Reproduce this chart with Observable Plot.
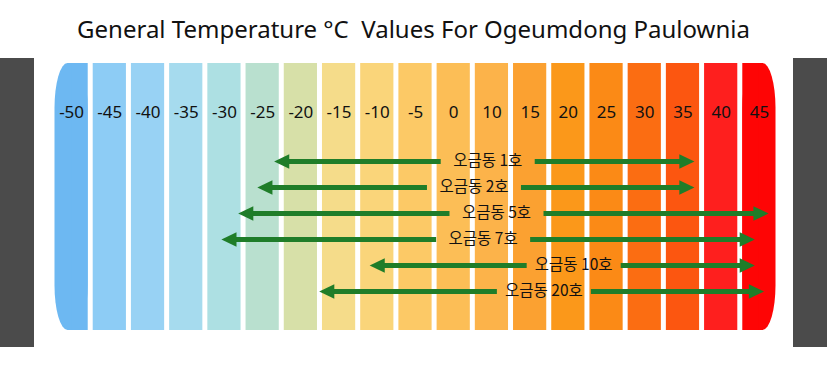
<!DOCTYPE html>
<html><head><meta charset="utf-8">
<script src="https://cdn.jsdelivr.net/npm/d3@7"></script>
<script src="https://cdn.jsdelivr.net/npm/@observablehq/plot@0.6"></script>
<style>
html,body{margin:0;padding:0;background:#fff;width:827px;height:370px;overflow:hidden;position:relative;}
#title{height:55px;line-height:58px;text-align:center;font-family:"Noto Sans",sans-serif;font-size:24px;color:#111;white-space:pre;}
#chart{height:315px;}
.side{position:absolute;top:58px;height:289px;width:34px;background:#4b4b4b;}
</style></head><body>
<div id="title">General Temperature °C  Values For Ogeumdong Paulownia</div>
<div id="chart"></div>
<div class="side" style="left:0"></div><div class="side" style="left:793px"></div>
<script>
// Temperature columns (°C)
const temps = [-50, -45, -40, -35, -30, -25, -20, -15, -10, -5, 0, 10, 15, 20, 25, 30, 35, 40, 45];
const tickLabels = temps.map(String);
const columnColors = ["#6db8f2", "#8dccf5", "#98d2f4", "#a6dbee", "#ade0e3", "#b9e0cf", "#d7e0a8", "#f5dc8a", "#fad57a", "#fcc966", "#fcbe56", "#fcb34a", "#fba131", "#fb981a", "#fb8a16", "#fb6d12", "#fc5610", "#fe1f1e", "#fe0505"];

// Varieties and their temperature ranges (°C)
const varieties = ["오금동 1호", "오금동 2호", "오금동 5호", "오금동 7호", "오금동 10호", "오금동 20호"];
const rangeMin = [-23.5, -25.7, -28.2, -30.4, -11, -17.6];
const rangeMax = [36.5, 36.5, 46.2, 44.4, 44.4, 45.6];
const labelAt = [8.9, 5.3, 10.6, 7.7, 20.7, 16.8];

// temperature -> column index (columns are evenly spaced categories)
const toIndex = d3.scaleLinear().domain(temps).range(temps.map((_, i) => i));
const cols = temps.map((t, i) => ({i, label: tickLabels[i]}));
const rows = varieties.map((name, k) => ({name, lo: toIndex(rangeMin[k]), hi: toIndex(rangeMax[k]), at: toIndex(labelAt[k])}));

const green = "#1f7d29";
const headRight = {draw(ctx, size) { const r = Math.sqrt(size / Math.PI), L = 2.4 * r, H = 2.3 * r; ctx.moveTo(0, 0); ctx.lineTo(-L, -H / 2); ctx.lineTo(-L, H / 2); ctx.closePath(); }};
const headLeft = {draw(ctx, size) { const r = Math.sqrt(size / Math.PI), L = 2.4 * r, H = 2.3 * r; ctx.moveTo(0, 0); ctx.lineTo(L, -H / 2); ctx.lineTo(L, H / 2); ctx.closePath(); }};

const first = cols.slice(0, 1), last = cols.slice(-1), middle = cols.slice(1, -1);
const gap = 2.5;

const chart = Plot.plot({
  width: 827, height: 315,
  marginLeft: 52, marginRight: 49, marginTop: 8, marginBottom: 40,
  x: {type: "linear", domain: [-0.5, temps.length - 0.5], axis: null},
  y: {type: "point", domain: varieties, axis: null, padding: 0, insetTop: 98, insetBottom: 39},
  color: {type: "ordinal", domain: tickLabels, range: columnColors},
  marks: [
    Plot.rect(middle, {x1: d => d.i - 0.5, x2: d => d.i + 0.5, insetLeft: gap, insetRight: gap, fill: "label"}),
    Plot.rect(first, {x1: d => d.i - 0.5, x2: d => d.i + 0.5, insetLeft: gap, insetRight: gap, rx: 13, ry: 45, fill: "label"}),
    Plot.rect(first, {x1: d => d.i, x2: d => d.i + 0.5, insetRight: gap, fill: "label"}),
    Plot.rect(last, {x1: d => d.i - 0.5, x2: d => d.i + 0.5, insetLeft: gap, insetRight: gap, rx: 13, ry: 45, fill: "label"}),
    Plot.rect(last, {x1: d => d.i - 0.5, x2: d => d.i, insetLeft: gap, fill: "label"}),
    Plot.text(cols, {x: "i", frameAnchor: "top", dy: 42, text: "label", fontSize: 17, fontFamily: "Noto Sans", fill: "#111"}),
    Plot.arrow(rows, {x1: "at", x2: "lo", y1: "name", y2: "name", headLength: 0, insetStart: 47, insetEnd: 6, stroke: green, strokeWidth: 5, strokeLinecap: "butt"}),
    Plot.arrow(rows, {x1: "at", x2: "hi", y1: "name", y2: "name", headLength: 0, insetStart: 47, insetEnd: 6, stroke: green, strokeWidth: 5, strokeLinecap: "butt"}),
    Plot.dot(rows, {x: "lo", y: "name", symbol: headLeft, r: 6.3, fill: green, stroke: "none"}),
    Plot.dot(rows, {x: "hi", y: "name", symbol: headRight, r: 6.3, fill: green, stroke: "none"}),
    Plot.text(rows, {x: "at", y: "name", text: "name", fontSize: 15.5, fontFamily: "Noto Sans CJK KR", fill: "#111"})
  ]
});
document.getElementById("chart").appendChild(chart);
</script>
</body></html>
